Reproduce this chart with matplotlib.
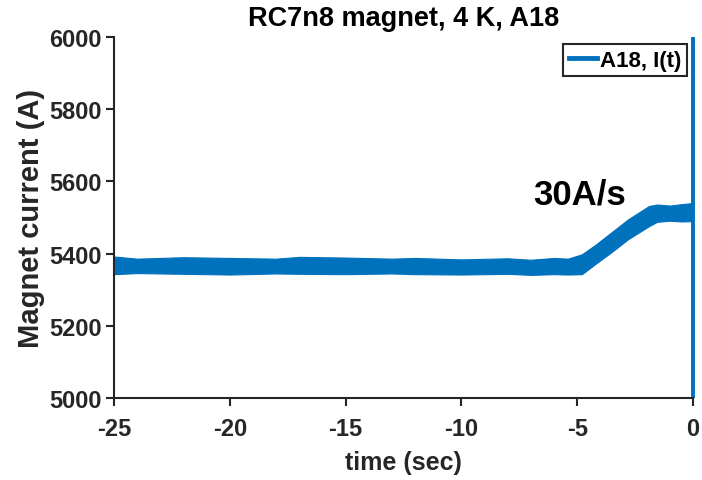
import matplotlib
matplotlib.use("Agg")
import matplotlib.pyplot as plt
from matplotlib.lines import Line2D

# Envelope of the noisy current trace
time_s = [-25, -24, -22, -20, -18, -17, -15, -13, -12, -10, -8, -7, -6, -5.4,
          -4.8, -4.2, -3.5, -2.8, -1.9, -1.55, -1.0, -0.5, 0]
upper_a = [5392, 5386, 5390, 5388, 5386, 5391, 5389, 5386, 5388, 5384, 5387, 5383, 5388, 5386,
           5398, 5425, 5460, 5495, 5532, 5536, 5533, 5537, 5540]
lower_a = [5343, 5346, 5344, 5342, 5345, 5344, 5343, 5345, 5343, 5342, 5344, 5341, 5343, 5342,
           5343, 5372, 5405, 5440, 5476, 5488, 5491, 5489, 5490]

# Quench at t = 0: current trace drops off the chart
quench_t = [0, 0]
quench_i = [6000, 5000]

x_ticks = [-25, -20, -15, -10, -5, 0]
y_ticks = [5000, 5200, 5400, 5600, 5800, 6000]

blue = "#0072BD"
dark = "#262626"

plt.rcParams["font.family"] = ["Liberation Sans", "DejaVu Sans"]
plt.rcParams["font.weight"] = "bold"

fig = plt.figure(figsize=(7.02, 4.81), dpi=100)
ax = fig.add_axes([114 / 702, 1 - 399 / 481, (693 - 114) / 702, (399 - 38) / 481])

ax.fill_between(time_s, lower_a, upper_a, color=blue, linewidth=0.8, edgecolor=blue)
ax.plot(quench_t, quench_i, color=blue, linewidth=2.8, solid_capstyle="butt", clip_on=False)

ax.set_xlim(-25, 0)
ax.set_ylim(5000, 6000)
ax.set_xticks(x_ticks)
ax.set_yticks(y_ticks)
ax.set_xticklabels([str(t) for t in x_ticks])

for side in ("top", "right"):
    ax.spines[side].set_visible(False)
for side in ("left", "bottom"):
    ax.spines[side].set_color(dark)
    ax.spines[side].set_linewidth(1.5)
ax.tick_params(direction="out", length=6, width=1.5, colors=dark, labelsize=17)
ax.tick_params(axis="x", pad=8)
ax.tick_params(axis="y", pad=3)

ax.set_xlabel("time (sec)", fontsize=18, fontweight="bold", color=dark, labelpad=7)
ax.set_ylabel("Magnet current (A)", fontsize=21, fontweight="bold", color=dark, labelpad=3)
ax.set_title("RC7n8 magnet, 4 K, A18", fontsize=19.5, fontweight="bold", color="black", pad=9)

ax.text(-4.9, 5565, "30A/s", fontsize=25, fontweight="bold", ha="center", va="center")

handle = Line2D([], [], color=blue, linewidth=3.5)
leg = ax.legend([handle], ["A18, I(t)"], loc="upper right", fontsize=16,
                handlelength=1.25, handletextpad=0.15, borderpad=0.25,
                borderaxespad=0, fancybox=False, framealpha=1,
                bbox_to_anchor=(0.9896, 0.9806))
leg.get_frame().set_edgecolor(dark)
leg.get_frame().set_linewidth(1.5)
for txt in leg.get_texts():
    txt.set_fontweight("bold")

fig.savefig("out.png", dpi=100)
